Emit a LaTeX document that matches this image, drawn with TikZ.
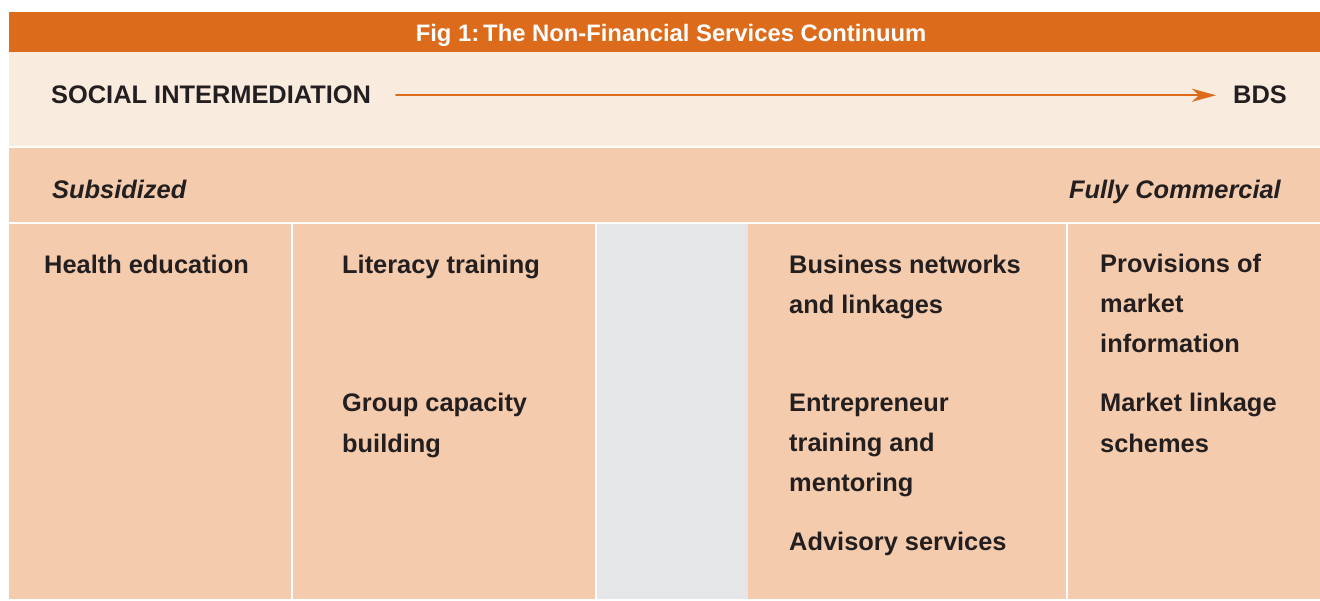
\documentclass[tikz,border=0pt]{standalone}
\usepackage{fontspec}
\setmainfont{Liberation Sans}
\usetikzlibrary{arrows.meta}
\definecolor{barorange}{HTML}{DC6B1C}
\definecolor{palepeach}{HTML}{FAEBDF}
\definecolor{midpeach}{HTML}{F4CBAD}
\definecolor{colgrey}{HTML}{E5E6E7}
\definecolor{inkdark}{HTML}{231F20}
\tikzset{
  lbl/.style={anchor=base west, inner sep=0pt, text=inkdark, font=\fontsize{25.4}{40}\selectfont\bfseries},
  item/.style={lbl, align=left},
  sepline/.style={draw=white, line width=2pt, line cap=butt}
}
\begin{document}
\begin{tikzpicture}[x=1pt, y=-1pt, line join=round, line cap=round]
\useasboundingbox (0,0) rectangle (1320,601);
\fill[white] (0,0) rectangle (1320,601);
\fill[barorange] (9,12) rectangle (1320,52);
\fill[palepeach] (9,52) rectangle (1320,147);
\fill[midpeach] (9,147) rectangle (1320,599);
\fill[colgrey] (596,223) rectangle (748,599);
\draw[sepline] (9,147) -- (1320,147);
\draw[sepline] (9,223) -- (1320,223);
\draw[sepline] (292,223) -- (292,599);
\draw[sepline] (596,223) -- (596,599);
\draw[sepline] (1067,223) -- (1067,599);
\node[anchor=base, inner sep=0pt, text=white, font=\fontsize{23.8}{28}\selectfont\bfseries] (title) at (671,42) {Fig 1:\,The Non-Financial Services Continuum};
\node[lbl] (social) at (51,104) {SOCIAL INTERMEDIATION};
\node[lbl, anchor=base east] (bds) at (1287,104) {BDS};
\draw[barorange, line width=2.4pt, -{Stealth[length=24pt, width=13pt, inset=7pt]}, shorten <=25pt, shorten >=17pt] (social.east) -- (bds.west);
\node[lbl, font=\fontsize{25.4}{40}\selectfont\bfseries\itshape] (subs) at (52,199) {Subsidized};
\node[lbl, anchor=base east, font=\fontsize{25.4}{40}\selectfont\bfseries\itshape] (comm) at (1281,199) {Fully Commercial};
% multi-line nodes sit on the baseline of their last line
\node[item] (health) at (44,274) {Health education};
\node[item] (literacy) at (342,274) {Literacy training};
\node[item] (group) at (342,452) {Group capacity\\building};
\node[item] (networks) at (789,314) {Business networks\\and linkages};
\node[item] (entre) at (789,491) {Entrepreneur\\training and\\mentoring};
\node[item] (advisory) at (789,550) {Advisory services};
\node[item] (provis) at (1100,353) {Provisions of\\market\\information};
\node[item] (linkage) at (1100,452) {Market linkage\\schemes};
\end{tikzpicture}
\end{document}
